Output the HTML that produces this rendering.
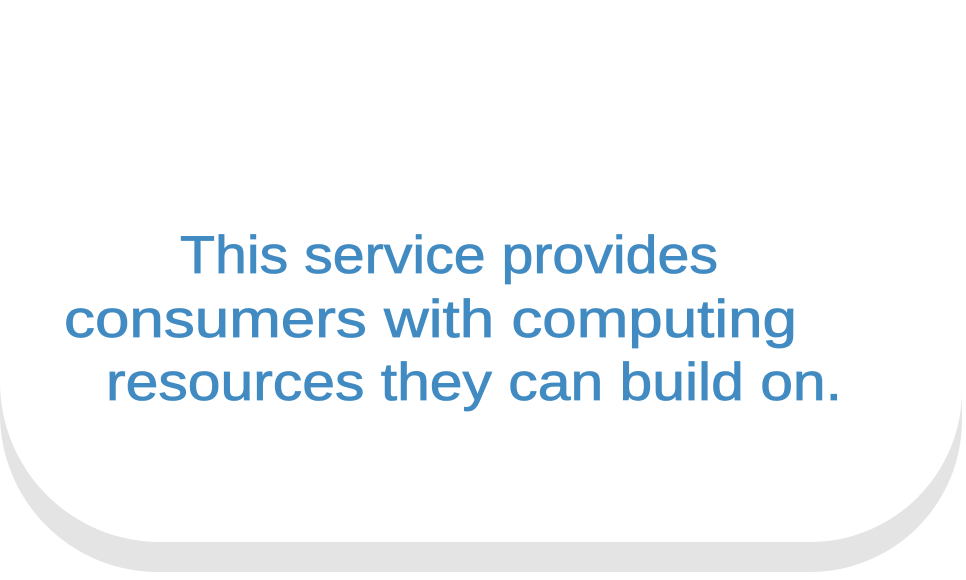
<!DOCTYPE html>
<html><head><style>
html,body{margin:0;padding:0;background:#fff;}
svg{display:block;}
</style></head><body>
<svg width="966" height="580" viewBox="0 0 966 580" xmlns="http://www.w3.org/2000/svg">
<rect x="0" y="0" width="966" height="580" fill="#fff"/>
<path d="M0 0 H962 V420 A152 152 0 0 1 810 572 H158 A158 158 0 0 1 0 414 Z" fill="#e4e4e4"/>
<path d="M0 0 H962 V390 A152 152 0 0 1 810 542 H160 A160 160 0 0 1 0 382 Z" fill="#fff"/>
<g font-family="'Liberation Sans',sans-serif" font-size="53" fill="#418bc2" stroke="#418bc2" stroke-width="0.8">
<text x="180" y="273" textLength="538" lengthAdjust="spacingAndGlyphs">This service provides</text>
<text x="64" y="337" textLength="733" lengthAdjust="spacingAndGlyphs">consumers with computing</text>
<text x="106" y="400" textLength="736" lengthAdjust="spacingAndGlyphs">resources they can build on.</text>
</g>
</svg>
</body></html>
